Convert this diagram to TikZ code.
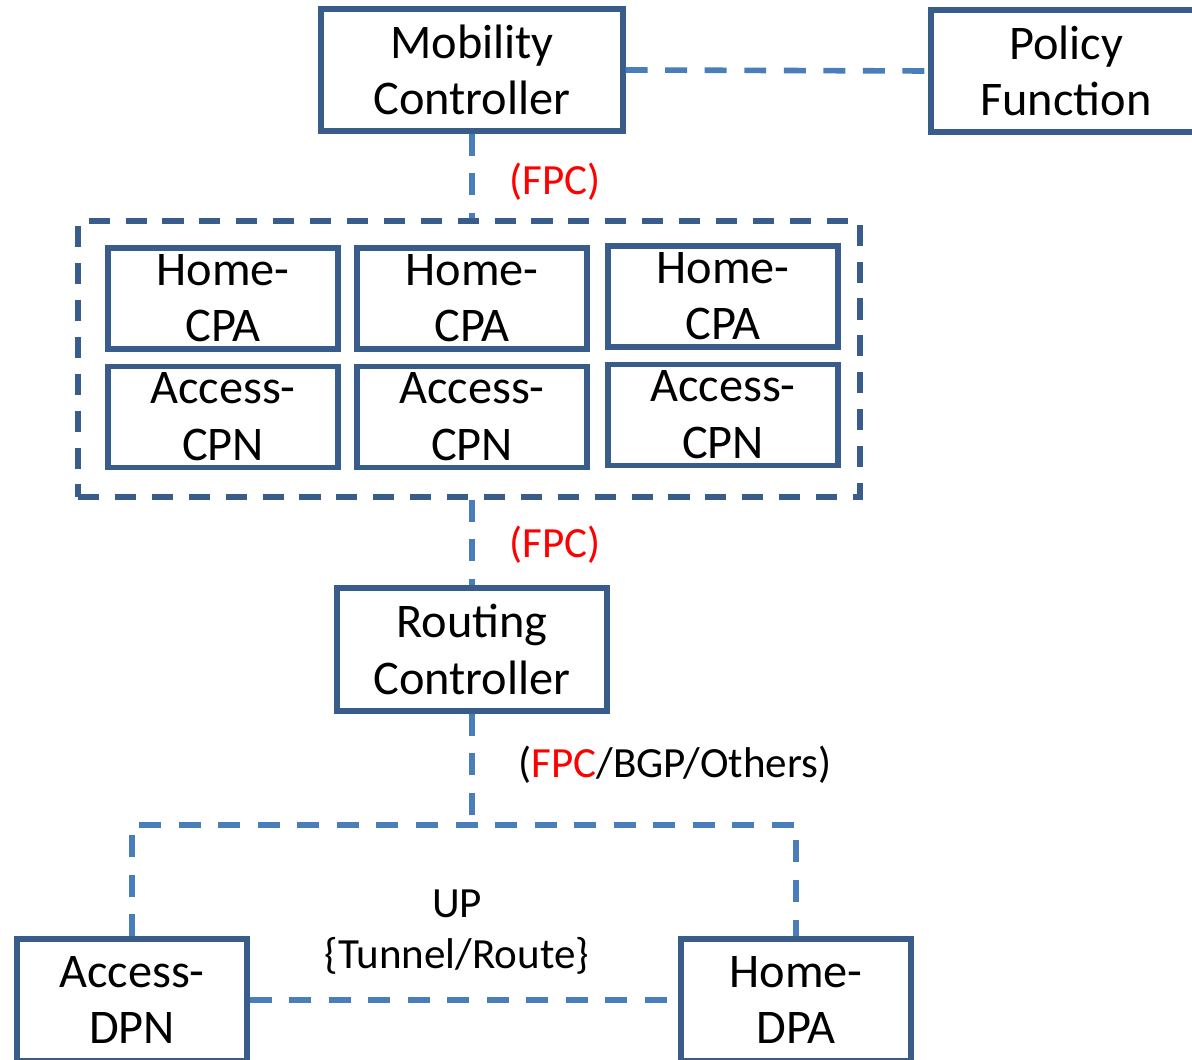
\documentclass[tikz,border=0pt]{standalone}
\usepackage{fontspec}
\setmainfont{Carlito}
\usepackage{xcolor}
\usetikzlibrary{positioning}
\definecolor{boxblue}{RGB}{56,93,138}
\definecolor{lineblue}{RGB}{74,126,187}
\newcommand{\fpc}{\textcolor{red}{FPC}}
\tikzset{
	box/.style={draw=boxblue, line width=3pt, align=center, inner sep=0pt,
		font=\fontsize{27.5}{32}\selectfont},
	cpbox/.style={box, inner ysep=-6pt, minimum width=4.6cm, minimum height=2.02cm},
	link/.style={draw=lineblue, line width=3.2pt, dash pattern=on 12.5pt off 10pt},
	group/.style={draw=boxblue, line width=2.9pt, dash pattern=on 12pt off 9pt},
	lbl/.style={font=\fontsize{24.5}{29}\selectfont, align=center}
}

\begin{document}
\begin{tikzpicture}
	\useasboundingbox (0,0) rectangle (23.84,-21.2);
	\clip (0,0) rectangle (23.84,-21.2);

	\node[box, minimum width=6.04cm, minimum height=2.44cm] (mc) at (9.44,-1.40) {Mobility\\Controller};
	\node[box, minimum width=5.4cm, minimum height=2.44cm] (pf) at (21.32,-1.42) {Policy\\Function};

	% control plane group
	\node[group, minimum width=15.64cm, minimum height=5.52cm] (cp) at (9.38,-7.18) {};

	\begin{scope}[xshift=4.46cm]
	\node[cpbox] (hc1) at (0,-5.97) {Home-\\CPA};
	\node[cpbox, below=0.24cm of hc1] (ac1) {Access-\\CPN};
	\end{scope}

	\begin{scope}[xshift=9.44cm]
	\node[cpbox] (hc2) at (0,-5.97) {Home-\\CPA};
	\node[cpbox, below=0.24cm of hc2] (ac2) {Access-\\CPN};
	\end{scope}

	\begin{scope}[xshift=14.46cm]
	\node[cpbox] (hc3) at (0,-5.93) {Home-\\CPA};
	\node[cpbox, below=0.24cm of hc3] (ac3) {Access-\\CPN};
	\end{scope}

	\node[box, minimum width=5.4cm, minimum height=2.46cm] (rc) at (9.44,-12.99) {Routing\\Controller};

	\node[box, minimum width=4.6cm, minimum height=2.44cm] (adpn) at (2.64,-20.0) {Access-\\DPN};
	\node[box, minimum width=4.6cm, minimum height=2.44cm] (hdpa) at (15.92,-20.0) {Home-\\DPA};

	% labels
	\node[lbl, text=red] (fpc1) at (11.1,-3.64) {(FPC)};
	\node[lbl, text=red] (fpc2) at (11.1,-10.9) {(FPC)};
	\node[lbl] (proto) at (13.5,-15.3) {(\fpc/BGP/Others)};
	\node[lbl] (up) at (9.14,-18.65) {UP\\\{Tunnel/Route\}};

	% connectors
	\coordinate (bus) at (9.44,-16.5);
	\draw[link] (mc.east) -- (pf.west);
	\draw[link] (mc.south) -- (mc.south |- cp.north);
	\draw[link] (rc.north |- cp.south) -- (rc.north);
	\draw[link] (rc.south) -- (bus);
	\draw[link] (adpn.north) |- (bus) -| (hdpa.north);
	\draw[link] (adpn.east) -- (hdpa.west);
\end{tikzpicture}
\end{document}
